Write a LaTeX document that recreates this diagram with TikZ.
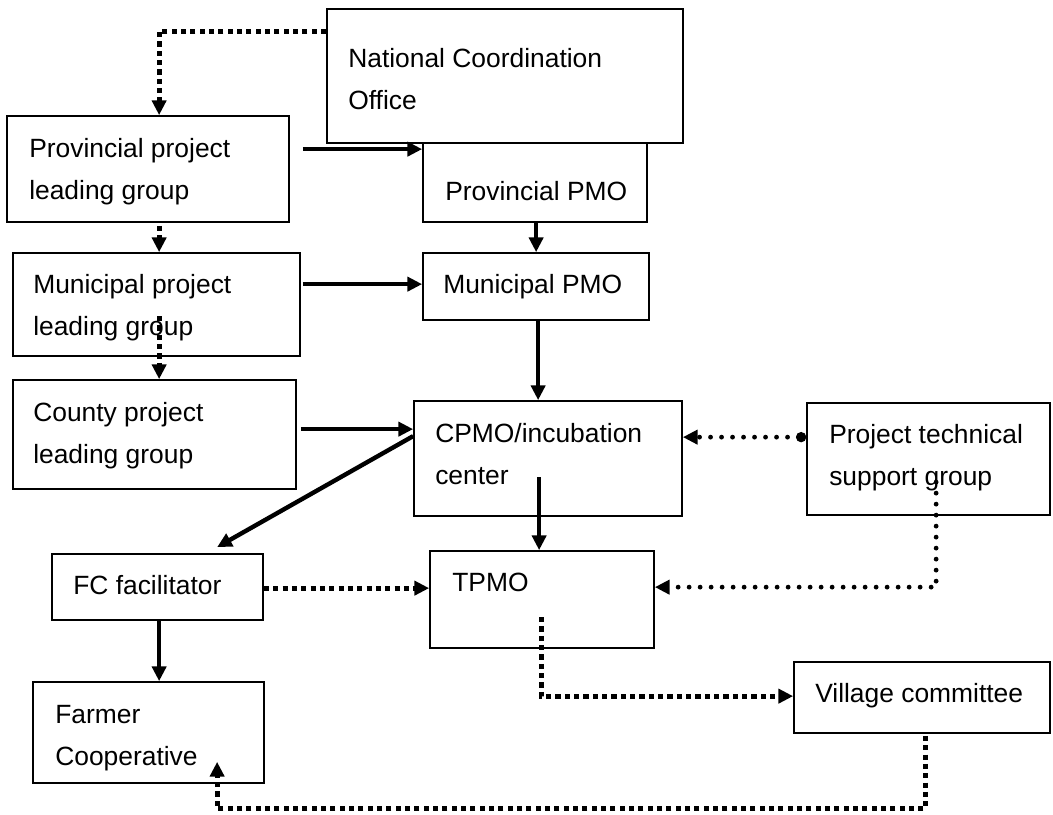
\documentclass[tikz,border=0pt]{standalone}
\usepackage{fontspec}
\setmainfont{Liberation Sans}
\usetikzlibrary{arrows.meta,calc,fit}
\begin{document}
\begin{tikzpicture}[x=0.75pt,y=-0.75pt,
  box/.style={draw, line width=1.3pt, fill=white, inner sep=0pt},
  txt/.style={anchor=base west, inner sep=0pt, font=\fontsize{19.8pt}{31.5pt}\selectfont},
  tip/.style={-{Triangle[length=11pt,width=10.5pt]}},
  solidarrow/.style={line width=3.3pt, tip},
  sqdot/.style={line width=3.8pt, dash pattern=on 3.8pt off 3.2pt, tip},
  rnddot/.style={line width=3.6pt, line cap=round, dash pattern=on 0pt off 8.25pt, tip}]
\useasboundingbox (0,0) rectangle (1053,814);

% boxes
\node[box, fit={(423,120)(647,222)}] (provpmo) {};
\node[box, fit={(327,9)(683,143)}] (nco) {};
\node[box, fit={(7,116)(289,222)}] (provgrp) {};
\node[box, fit={(13,253)(300,356)}] (mungrp) {};
\node[box, fit={(423,253)(649,320)}] (munpmo) {};
\node[box, fit={(13,380)(296,489)}] (cntgrp) {};
\node[box, fit={(414,401)(682,516)}] (cpmo) {};
\node[box, fit={(807,403)(1050,515)}] (ptsg) {};
\node[box, fit={(52,554)(263,620)}] (fc) {};
\node[box, fit={(430,551)(654,648)}] (tpmo) {};
\node[box, fit={(33,682)(264,783)}] (farmer) {};
\node[box, fit={(794,662)(1050,733)}] (village) {};

% texts
\node[txt] (t-nco) at (348,67) {\begin{tabular}[t]{@{}l@{}}National Coordination\\Office\end{tabular}};
\node[txt] (t-provgrp) at (29,157) {\begin{tabular}[t]{@{}l@{}}Provincial project\\leading group\end{tabular}};
\node[txt] (t-provpmo) at (445,200) {Provincial PMO};
\node[txt] (t-mungrp) at (33,293) {\begin{tabular}[t]{@{}l@{}}Municipal project\\leading group\end{tabular}};
\node[txt] (t-munpmo) at (443,293) {Municipal PMO};
\node[txt] (t-cntgrp) at (33,421) {\begin{tabular}[t]{@{}l@{}}County project\\leading group\end{tabular}};
\node[txt] (t-cpmo) at (435,442) {\begin{tabular}[t]{@{}l@{}}CPMO/incubation\\center\end{tabular}};
\node[txt] (t-ptsg) at (829,443) {\begin{tabular}[t]{@{}l@{}}Project technical\\support group\end{tabular}};
\node[txt] (t-fc) at (73,594) {FC facilitator};
\node[txt] (t-tpmo) at (452,591) {TPMO};
\node[txt] (t-farmer) at (55,723) {\begin{tabular}[t]{@{}l@{}}Farmer\\Cooperative\end{tabular}};
\node[txt] (t-village) at (815,702) {Village committee};

% connectors
\draw[sqdot] ($(nco.north west)+(0,23)$) -| ($(provgrp.north west)+(153,0)$);
\draw[solidarrow] ($(provgrp.north east)+(13,34)$) -- ($(provpmo.north west)+(0,30)$);
\draw[solidarrow] ($(provpmo.south west)+(114,0)$) -- ($(munpmo.north west)+(114,0)$);
\draw[sqdot] ($(provgrp.south west)+(153,3)$) -- ($(mungrp.north west)+(147,0)$);
\draw[solidarrow] ($(mungrp.north east)+(2,32)$) -- ($(munpmo.north west)+(0,32)$);
\draw[solidarrow] ($(munpmo.south west)+(116,0)$) -- ($(cpmo.north west)+(125,0)$);
\draw[sqdot] ($(mungrp.north west)+(147,64)$) -- ($(cntgrp.north west)+(147,0)$);
\draw[solidarrow] ($(cntgrp.north east)+(4,50)$) -- ($(cpmo.north west)+(0,29)$);
\draw[solidarrow] ($(cpmo.north west)+(0,36)$) -- ($(fc.north west)+(166,-6)$);
\draw[solidarrow] ($(cpmo.north west)+(126,77)$) -- ($(tpmo.north west)+(110,0)$);
\draw[rnddot, {Circle[length=7.5pt]}-{Triangle[length=11pt,width=10.5pt]}] ($(ptsg.north west)+(0,35)$) -- ($(cpmo.north east)+(0,37)$);
\draw[sqdot] ($(fc.north east)+(0,35)$) -- ($(tpmo.north west)+(0,38)$);
\draw[rnddot] ($(ptsg.north west)+(130,80)$) |- ($(tpmo.north east)+(0,37)$);
\draw[sqdot] ($(tpmo.north west)+(112,67)$) |- ($(village.north west)+(0,35)$);
\draw[sqdot] ($(village.south west)+(132,2)$) -- ++(0,73) -| ($(farmer.south west)+(185,-22)$);
\draw[solidarrow] ($(fc.south west)+(108,0)$) -- ($(farmer.north west)+(127,0)$);
\end{tikzpicture}
\end{document}
